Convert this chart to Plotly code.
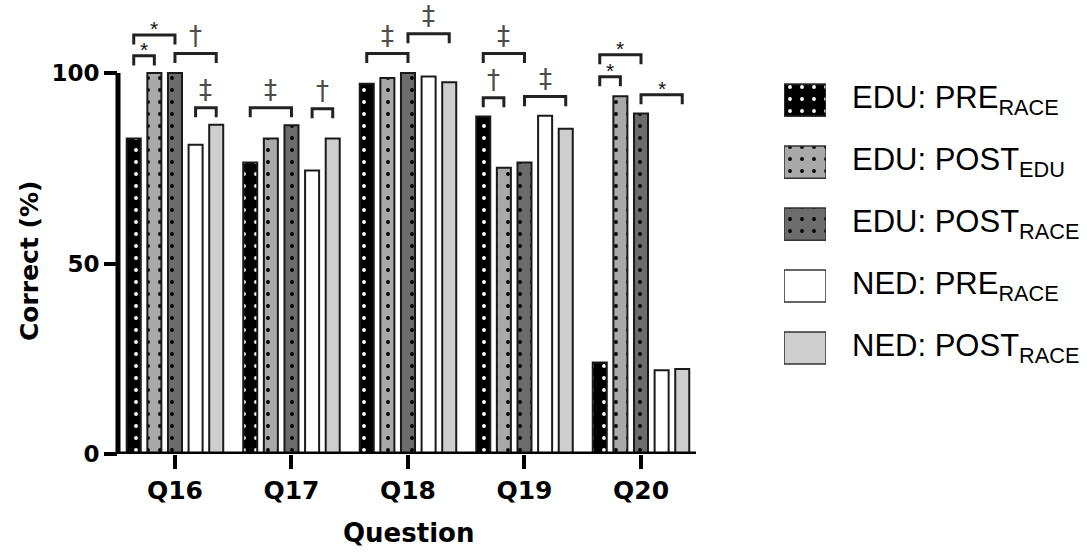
import plotly.graph_objects as go

# ---- data -------------------------------------------------------------
questions = ["Q16", "Q17", "Q18", "Q19", "Q20"]

series_names = [
    "EDU: PRE<sub>RACE</sub>",
    "EDU: POST<sub>EDU</sub>",
    "EDU: POST<sub>RACE</sub>",
    "NED: PRE<sub>RACE</sub>",
    "NED: POST<sub>RACE</sub>",
]

edu_pre_race = [82.8, 76.5, 97.2, 88.6, 24.0]
edu_post_edu = [100.0, 82.8, 98.7, 75.1, 93.9]
edu_post_race = [100.0, 86.3, 100.0, 76.5, 89.4]
ned_pre_race = [81.2, 74.4, 99.1, 88.8, 22.0]
ned_post_race = [86.4, 82.8, 97.6, 85.4, 22.3]

y_ticks = [0, 50, 100]

# significance brackets: question, first bar, second bar, bracket height (%), mark
bracket_question = [0, 0, 0, 0, 1, 1, 2, 2, 3, 3, 3, 4, 4, 4]
bracket_from = [0, 0, 2, 3, 0, 3, 0, 2, 0, 0, 2, 0, 0, 2]
bracket_to = [1, 2, 4, 4, 2, 4, 2, 4, 2, 1, 4, 2, 1, 4]
bracket_level = [104.5, 110.0, 105.1, 90.9, 90.9, 90.6, 105.1, 110.3,
                 105.1, 93.5, 93.8, 104.8, 99.0, 94.3]
bracket_mark = ["*", "*", "†", "‡", "‡", "†", "‡", "‡",
                "‡", "†", "‡", "*", "*", "*"]

# ---- styling ----------------------------------------------------------
series_values = [edu_pre_race, edu_post_edu, edu_post_race, ned_pre_race, ned_post_race]
fills = ["#000000", "#a9a9a9", "#6c6c6c", "#ffffff", "#cecece"]
dot_colors = ["#ffffff", "#000000", "#000000", None, None]

BARGAP = 0.115
BARGROUPGAP = 0.32
DOT_SIZE = 12
DOT_SOLIDITY = 0.08
AXIS_FONT = dict(family="DejaVu Sans", size=25, color="black", weight="bold")


def bar_marker(fill, dot, line_color, line_width):
    marker = dict(color=fill, line=dict(color=line_color, width=line_width))
    if dot:
        marker["pattern"] = dict(shape=".", fgcolor=dot, bgcolor=fill,
                                 fgopacity=1, size=DOT_SIZE,
                                 solidity=DOT_SOLIDITY, fillmode="overlay")
    return marker


fig = go.Figure()

for name, vals, fill, dot in zip(series_names, series_values, fills, dot_colors):
    fig.add_trace(go.Bar(
        x=list(range(len(questions))), y=vals, name=name,
        marker=bar_marker(fill, dot, "#1a1a1a", 2),
        showlegend=False, hoverinfo="skip",
    ))

# key swatches: one short horizontal bar per series on their own axes
for i, (name, fill, dot) in enumerate(zip(series_names, fills, dot_colors)):
    fig.add_trace(go.Bar(
        x=[1], y=[i], orientation="h", xaxis="x2", yaxis="y2",
        width=0.52, offset=-0.26, name=name,
        marker=bar_marker(fill, dot, "#333333", 1.5),
        showlegend=False, hoverinfo="skip",
    ))

# significance brackets
slot = (1 - BARGAP) / len(series_values)
drop = 2.5
bx, by = [], []
annotations = []
for q, a, b, lvl, mark in zip(bracket_question, bracket_from, bracket_to,
                              bracket_level, bracket_mark):
    xa = q + (a - 2) * slot
    xb = q + (b - 2) * slot
    bx += [xa, xa, xb, xb, None]
    by += [lvl - drop, lvl, lvl, lvl - drop, None]
    if mark == "*":
        annotations.append(dict(
            x=(xa + xb) / 2, y=lvl, xref="x", yref="y", text=mark,
            showarrow=False, yanchor="middle", yshift=6,
            font=dict(family="Liberation Sans", size=21, color="#111111"),
        ))
    else:
        annotations.append(dict(
            x=(xa + xb) / 2, y=lvl, xref="x", yref="y", text=mark,
            showarrow=False, yanchor="middle", yshift=18,
            font=dict(family="DejaVu Sans", size=26, color="#4d4d4d"),
        ))

fig.add_trace(go.Scatter(
    x=bx, y=by, mode="lines", line=dict(color="#222222", width=3),
    showlegend=False, hoverinfo="skip",
))

# key labels
for i, name in enumerate(series_names):
    annotations.append(dict(
        x=0.7633, y=i, xref="paper", yref="y2", text=name,
        xanchor="left", yanchor="middle", showarrow=False,
        font=dict(family="Liberation Sans", size=31, color="black"),
    ))

# axis titles
annotations.append(dict(
    x=-0.0928, y=0.425, xref="paper", yref="paper", text="Correct (%)",
    textangle=-90, showarrow=False, xanchor="center", yanchor="middle",
    font=dict(family="DejaVu Sans", size=25, color="black", weight="bold"),
))
annotations.append(dict(
    x=0.3024, y=-0.174, xref="paper", yref="paper", text="Question",
    showarrow=False, xanchor="center", yanchor="middle",
    font=dict(family="DejaVu Sans", size=26, color="black", weight="bold"),
))

# axis lines (y line stops at 100)
shapes = [
    dict(type="line", xref="x domain", yref="y", x0=0, x1=1, y0=0, y1=0,
         line=dict(color="black", width=5), layer="above"),
    dict(type="line", xref="x domain", yref="y", x0=0, x1=0, y0=-0.66, y1=100,
         line=dict(color="black", width=5), layer="above"),
]

fig.update_layout(
    width=1087, height=552,
    margin=dict(l=118, r=10, t=0, b=98),
    paper_bgcolor="white", plot_bgcolor="white",
    barmode="group", bargap=BARGAP, bargroupgap=BARGROUPGAP,
    annotations=annotations, shapes=shapes,
    xaxis=dict(
        domain=[0, 0.6027], range=[-0.489, 4.472],
        tickmode="array", tickvals=list(range(len(questions))), ticktext=questions,
        ticks="outside", ticklen=14, tickwidth=4, tickcolor="black",
        showline=False, showgrid=False, zeroline=False, tickfont=AXIS_FONT,
    ),
    yaxis=dict(
        domain=[0, 1], range=[0, 119.16],
        tickmode="array", tickvals=y_ticks,
        ticks="outside", ticklen=13, tickwidth=4, tickcolor="black",
        showline=False, showgrid=False, zeroline=False,
        tickfont=dict(family="DejaVu Sans", size=23, color="black", weight="bold"),
    ),
    xaxis2=dict(domain=[0.6945, 0.7383], range=[0, 1], anchor="y2", visible=False),
    yaxis2=dict(domain=[0.1652, 0.848], range=[4.5, -0.5], anchor="x2", visible=False),
)

fig.write_html("out.html")
